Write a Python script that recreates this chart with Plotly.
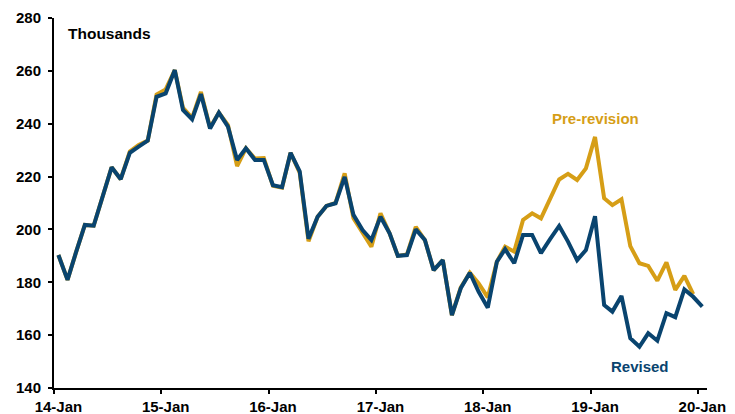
import pandas as pd
import plotly.graph_objects as go

months = pd.date_range("2014-01-01", "2020-01-01", freq="MS")
dates = [d + pd.Timedelta(days=15) for d in months]

revised = [
    190.3, 180.9, 191.0, 201.7, 201.4, 213.0, 223.5, 219.0, 229.0, 231.3, 233.6, 250.2,
    251.5, 260.3, 245.2, 241.7, 251.2, 238.2, 244.2, 238.9, 226.3, 230.7, 226.3, 226.3,
    216.7, 216.0, 229.0, 222.0, 196.5, 204.8, 208.9, 209.9, 219.9, 205.5, 199.8, 196.0,
    204.8, 198.5, 190.0, 190.3, 200.0, 196.0, 184.6, 188.4, 167.6, 177.7, 183.6, 176.4,
    170.4, 187.8, 192.5, 187.2, 197.9, 197.9, 191.0, 196.3, 201.3, 195.4, 188.4, 192.2,
    205.0, 171.4, 168.9, 174.8, 158.8, 155.6, 160.7, 157.9, 168.3, 166.8, 177.3, 174.5,
    170.8,
]

pre_revision = [
    190.3, 180.9, 191.0, 201.7, 201.4, 213.0, 223.5, 219.0, 229.5, 232.0, 233.6, 251.0,
    253.0, 260.3, 246.0, 242.2, 252.0, 238.5, 244.2, 239.5, 224.0, 230.7, 226.8, 227.0,
    216.5, 215.8, 229.0, 221.5, 195.5, 204.8, 208.9, 210.0, 221.2, 204.2, 198.5, 193.5,
    206.1, 198.5, 190.0, 190.5, 201.0, 196.0, 184.6, 188.4, 167.6, 178.0, 183.6, 179.6,
    174.3, 187.8, 193.5, 191.6, 203.6, 206.1, 204.2, 211.8, 218.9, 221.0, 218.7, 223.1,
    235.0, 211.8, 209.2, 211.4, 193.7, 187.2, 186.2, 180.6, 187.5, 177.1, 182.4, 175.5,
]

years = list(range(2014, 2021))
tick_labels = [f"{str(y)[2:]}-Jan" for y in years]

gold = "#D69E16"
navy = "#09446F"
font_family = "Liberation Sans, Arial, sans-serif"

fig = go.Figure()
fig.add_trace(go.Scatter(x=dates[:len(pre_revision)], y=pre_revision, mode="lines",
                         line=dict(color=gold, width=4), name="Pre-revision"))
fig.add_trace(go.Scatter(x=dates, y=revised, mode="lines",
                         line=dict(color=navy, width=4), name="Revised"))

fig.update_layout(
    width=735, height=414,
    margin=dict(l=54, r=28, t=18, b=26),
    paper_bgcolor="white", plot_bgcolor="white",
    showlegend=False,
    font=dict(family=font_family, color="black", size=15),
    xaxis=dict(
        range=["2014-01-01", "2020-02-01"],
        tickvals=[f"{y}-01-16" for y in years],
        ticktext=tick_labels,
        automargin=False,
        showgrid=False, zeroline=False,
        showline=True, linecolor="black", linewidth=2,
        ticks="outside", ticklen=4, tickwidth=2, tickcolor="rgba(0,0,0,0)",
        minor=dict(tickvals=[f"{y}-01-01" for y in years], ticks="outside",
                   ticklen=4, tickwidth=2, tickcolor="black", showgrid=False),
        tickfont=dict(family=font_family, size=15, color="black", weight="bold"),
    ),
    yaxis=dict(
        range=[140, 280], dtick=20, tick0=140,
        automargin=False,
        showgrid=False, zeroline=False,
        showline=True, linecolor="black", linewidth=2,
        ticks="outside", ticklen=4, tickwidth=2, tickcolor="black",
        ticklabelstandoff=4,
        tickfont=dict(family=font_family, size=15, color="black", weight="bold"),
    ),
    annotations=[
        dict(text="<b>Thousands</b>", xref="paper", yref="paper", x=0.018, y=0.958,
             xanchor="left", yanchor="middle", showarrow=False,
             font=dict(family=font_family, size=15.5, color="black")),
        dict(text="<b>Pre-revision</b>", xref="paper", yref="paper", x=0.830, y=0.729,
             xanchor="center", yanchor="middle", showarrow=False,
             font=dict(family=font_family, size=15, color=gold)),
        dict(text="<b>Revised</b>", xref="paper", yref="paper", x=0.897, y=0.058,
             xanchor="center", yanchor="middle", showarrow=False,
             font=dict(family=font_family, size=15, color=navy)),
    ],
)

fig.write_html("out.html")
